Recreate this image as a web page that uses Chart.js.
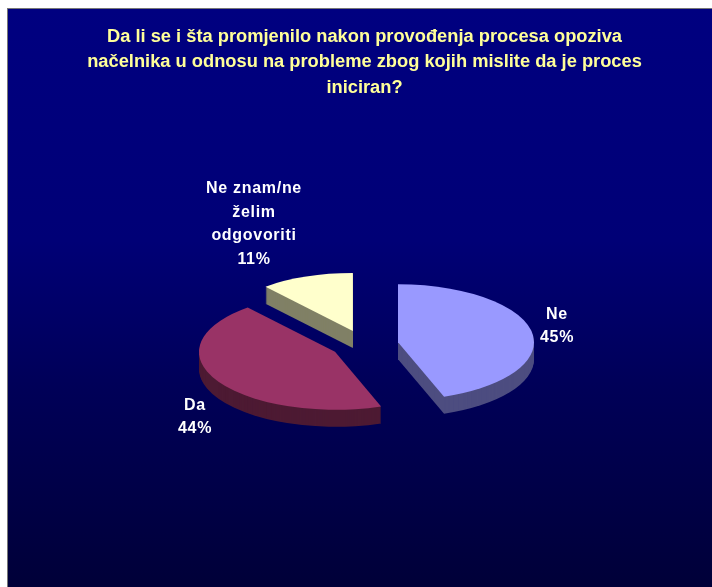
<!DOCTYPE html>
<html>
<head>
<meta charset="utf-8">
<script src="https://cdn.jsdelivr.net/npm/chart.js@4/dist/chart.umd.min.js"></script>
<style>
  html, body { margin: 0; padding: 0; background: #fff; overflow: hidden; }
  #panel {
    position: absolute; left: 7px; top: 8px; width: 705px; height: 579px;
    border-left: 1px solid #777; border-top: 1px solid #777;
    background: linear-gradient(#000080 0%, #000076 40%, #000058 65%, #000038 100%);
  }
  #graf { position: absolute; left: 0; top: 0; }
</style>
</head>
<body>
<div id="panel"></div>
<canvas id="graf" width="712" height="587"></canvas>
<script>
const titulo = [
  'Da li se i šta promjenilo nakon provođenja procesa opoziva',
  'načelnika u odnosu na probleme zbog kojih mislite da je proces',
  'iniciran?'
];
const kategorije = ['Ne', 'Da', 'Ne znam/ne želim odgovoriti'];
const vrijednosti = [44.5, 44.4, 11.1];
const redoviNatpisa = [['Ne'], ['Da'], ['Ne znam/ne', 'želim', 'odgovoriti']];
const bojeGore = ['#9999ff', '#993366', '#ffffcc'];
const bojeStrana = ['#4d4d80', '#4d1a33', '#808066'];

// natpisi: centar teksta, u pikselima
const polozajNatpisa = [[557, 326], [195, 417], [254, 224]];

const SPLJOSTENOST = 0.426; // elipsa umjesto kruga
const DUBINA = 17;

// crta krisku sa "3D" stranom, geometrija dolazi iz Chart.js elemenata
const pita3d = {
  id: 'pita3d',
  beforeDatasetDraw(chart) {
    const { ctx } = chart;
    const luci = chart.getDatasetMeta(0).data;

    const putanja = (luk, pomak, dy) => {
      const { x, y, startAngle, endAngle, outerRadius } = luk.getProps(['x', 'y', 'startAngle', 'endAngle', 'outerRadius'], true);
      const sredina = (startAngle + endAngle) / 2;
      ctx.save();
      ctx.translate(x + Math.cos(sredina) * pomak, y + Math.sin(sredina) * pomak * SPLJOSTENOST + dy);
      ctx.scale(1, SPLJOSTENOST);
      ctx.beginPath();
      ctx.moveTo(0, 0);
      ctx.arc(0, 0, outerRadius, startAngle, endAngle);
      ctx.closePath();
      ctx.restore();
    };

    luci.forEach((luk, i) => {
      const pomak = luk.options.offset;
      ctx.fillStyle = bojeStrana[i];
      for (let d = DUBINA; d > 0; d--) {
        putanja(luk, pomak, d);
        ctx.fill();
      }
      ctx.fillStyle = bojeGore[i];
      putanja(luk, pomak, 0);
      ctx.fill();
    });
    return false;
  },
  afterDraw(chart) {
    const { ctx } = chart;
    ctx.save();
    ctx.fillStyle = '#ffffff';
    ctx.font = 'bold 16px "Liberation Sans"';
    ctx.letterSpacing = '0.7px';
    ctx.textAlign = 'center';
    ctx.textBaseline = 'middle';
    vrijednosti.forEach((v, i) => {
      const redovi = redoviNatpisa[i].concat(Math.round(v) + '%');
      const [x, y] = polozajNatpisa[i];
      redovi.forEach((r, j) => {
        ctx.fillText(r, x, y + (j - (redovi.length - 1) / 2) * 23.5);
      });
    });
    ctx.restore();
  }
};

new Chart(document.getElementById('graf').getContext('2d'), {
  type: 'pie',
  data: {
    labels: kategorije,
    datasets: [{
      data: vrijednosti,
      backgroundColor: bojeGore,
      borderWidth: 0,
      offset: 34
    }]
  },
  options: {
    responsive: false,
    animation: false,
    radius: 136,
    layout: { padding: { left: 17, right: 0, top: 0, bottom: 9 } },
    plugins: {
      legend: { display: false },
      tooltip: { enabled: false },
      title: {
        display: true,
        text: titulo,
        color: '#ffff99',
        font: { family: '"Liberation Sans"', size: 18.3, weight: 'bold', lineHeight: 1.39 },
        padding: { top: 24, bottom: 11 }
      }
    }
  },
  plugins: [pita3d]
});
</script>
</body>
</html>
